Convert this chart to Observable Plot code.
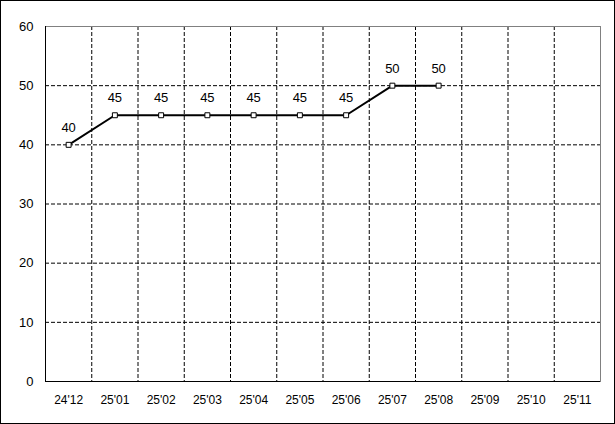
<!DOCTYPE html>
<html>
<head>
<meta charset="utf-8">
<script src="https://cdn.jsdelivr.net/npm/d3@7"></script>
<script src="https://cdn.jsdelivr.net/npm/@observablehq/plot@0.6"></script>
<style>
  html, body { margin: 0; padding: 0; background: #fff; }
  #chart svg { display: block; outline: 1px solid #000; outline-offset: -1px; }
</style>
</head>
<body>
<div id="chart"></div>
<script>
const categories = ["24'12", "25'01", "25'02", "25'03", "25'04", "25'05", "25'06", "25'07", "25'08", "25'09", "25'10", "25'11"];
const values = [40, 45, 45, 45, 45, 45, 45, 50, 50];
const yTicks = [0, 10, 20, 30, 40, 50, 60];

const data = values.map((v, i) => ({ i, cat: categories[i], v }));
const centers = categories.map((c, i) => i + 0.5);
const boundaries = d3.range(1, categories.length);

const chart = Plot.plot({
  width: 615,
  height: 424,
  marginLeft: 45,
  marginTop: 26,
  marginRight: 15,
  marginBottom: 43,
  style: { fontFamily: "'Liberation Sans', Arial, sans-serif", fontSize: "12px", color: "#000", background: "#fff" },
  x: { type: "linear", domain: [0, categories.length], label: null },
  y: { domain: [0, 60], label: null },
  marks: [
    Plot.ruleY(yTicks.filter(t => t > 0 && t < 60), { stroke: "#000", strokeDasharray: "4,2", strokeWidth: 1 }),
    Plot.ruleX(boundaries, { stroke: "#000", strokeDasharray: "4,2", strokeWidth: 1 }),
    Plot.frame({ stroke: "#808080" }),
    Plot.ruleX([0], { stroke: "#000" }),
    Plot.ruleY([0], { stroke: "#000" }),
    Plot.line(data, { x: d => d.i + 0.5, y: "v", stroke: "#000", strokeWidth: 2 }),
    Plot.dot(data, { x: d => d.i + 0.5, y: "v", symbol: "square", r: 2.8, stroke: "#000", fill: "#fff", strokeWidth: 1 }),
    Plot.text(data, { x: d => d.i + 0.5, y: "v", text: d => String(d.v), dy: -17, fill: "#000", fontSize: 13 }),
    Plot.axisX({ ticks: centers, tickFormat: d => categories[Math.floor(d)], tickSize: 0, tickPadding: 14, label: null, fontSize: 12 }),
    Plot.axisY({ ticks: yTicks, tickSize: 0, tickPadding: 12, label: null, fontSize: 13 })
  ]
});
document.getElementById("chart").appendChild(chart);
</script>
</body>
</html>
